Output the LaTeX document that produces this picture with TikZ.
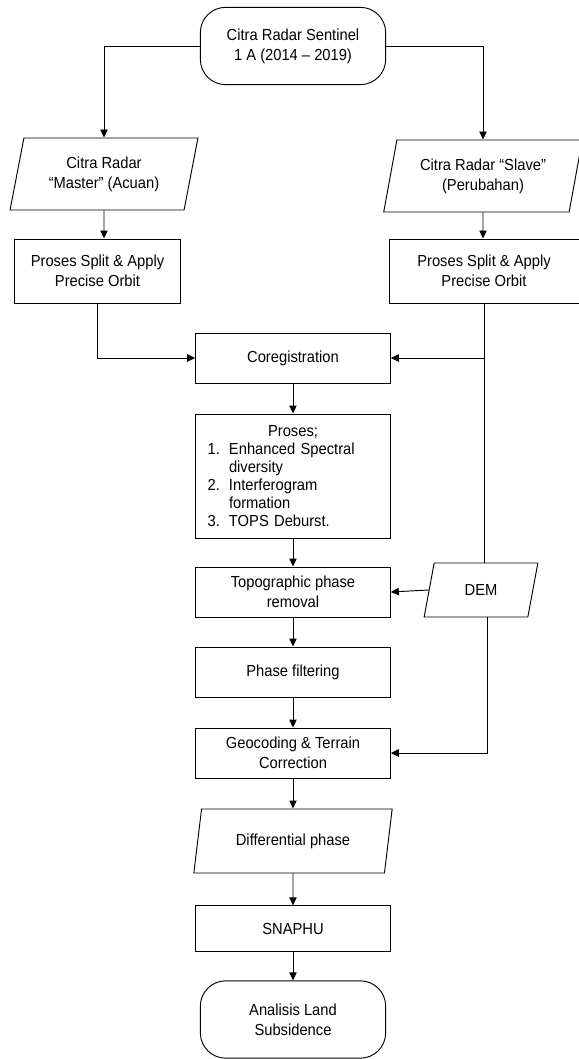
\documentclass[tikz,border=0pt]{standalone}
\usepackage{fontspec}
\setmainfont{Liberation Sans}[FakeStretch=0.92]
\usetikzlibrary{shapes.geometric,arrows.meta}

\begin{document}
\begin{tikzpicture}[x=0.75pt,y=-0.75pt,
    font=\fontsize{12}{15}\selectfont,
    every node/.style={draw, line width=0.7pt, align=center, inner sep=2pt},
    term/.style={rounded corners=19pt, minimum width=139pt, minimum height=58pt},
    procbox/.style={rectangle, minimum width=146pt, minimum height=37.5pt},
    iobox/.style={trapezium, trapezium left angle=76, trapezium right angle=104,
                  trapezium stretches=true, minimum height=54pt},
    arr/.style={line width=0.7pt, -{Triangle[length=6pt,width=5.5pt]}},
    ln/.style={line width=0.7pt}]
  \useasboundingbox (0,0) rectangle (578,1059);

  % start
  \node[term] (start) at (293,46) {Citra Radar Sentinel\\1 A (2014 -- 2019)};

  % input images
  \node[iobox, minimum width=141pt] (master) at (104,174) {Citra Radar\\“Master” (Acuan)};
  \node[iobox, minimum width=149pt] (slave) at (483,176) {Citra Radar “Slave”\\(Perubahan)};
  \node[procbox, minimum width=124pt, minimum height=48pt] (splitL) at (97.5,271) {Proses Split \& Apply\\Precise Orbit};
  \node[procbox, minimum width=142.5pt, minimum height=48pt] (splitR) at (484,271) {Proses Split \& Apply\\Precise Orbit};

  % main column
  \node[procbox] (coreg) at (293,358) {Coregistration};
  \node[procbox, minimum height=93pt, text width=128pt, align=left, inner xsep=9pt,
        font=\fontsize{12}{13.5}\selectfont] (proses) at (293,476)
    {\makebox[128pt]{Proses;}\\
     \makebox[16pt][l]{1.}Enhanced Spectral\\
     \hspace*{16pt}diversity\\
     \makebox[16pt][l]{2.}Interferogram\\
     \hspace*{16pt}formation\\
     \makebox[16pt][l]{3.}TOPS Deburst.};
  \node[procbox] (topo) at (293,592) {Topographic phase\\removal};
  \node[iobox, minimum width=85.5pt, minimum height=40.5pt] (dem) at (481,590) {DEM};
  \node[procbox] (phase) at (293,672) {Phase filtering};
  \node[procbox] (geo) at (293,753) {Geocoding \& Terrain\\Correction};
  \node[iobox, minimum width=150pt, minimum height=48pt] (diff) at (293,841) {Differential phase};
  \node[procbox, minimum height=34pt] (snaphu) at (293,928.5) {SNAPHU};
  \node[term, minimum height=58pt] (finish) at (293,1019.5) {Analisis Land\\Subsidence};

  % connectors
  \draw[arr] (start.west) -| (master.north);
  \draw[arr] (start.east) -| (slave.north);
  \draw[arr] (master) -- (master.south |- splitL.north);
  \draw[arr] (slave) -- (slave.south |- splitR.north);
  \draw[arr] (splitL.south) |- (coreg.west);
  \draw[ln] (splitR.south) -- (splitR.south |- dem.north);
  \draw[arr] (splitR.south |- coreg.east) -- (coreg.east);
  \draw[arr] (coreg) -- (proses);
  \draw[arr] (proses) -- (topo);
  \draw[arr] (dem.west) -- (topo.east);
  \draw[arr] (topo) -- (phase);
  \draw[arr] (phase) -- (geo);
  \draw[arr] ([xshift=4.5pt]dem.south) |- (geo.east);
  \draw[arr] (geo) -- (diff);
  \draw[arr] (diff) -- (snaphu);
  \draw[arr] (snaphu) -- (finish);
\end{tikzpicture}
\end{document}
